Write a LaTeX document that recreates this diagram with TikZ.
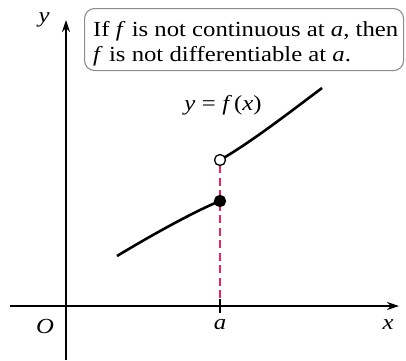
\documentclass[tikz,border=0pt]{standalone}
\usepackage{fontspec}
\setmainfont{Liberation Serif}[FakeStretch=1.15]
\usetikzlibrary{arrows.meta}
\definecolor{dashred}{RGB}{228,40,95}
\definecolor{boxgray}{RGB}{140,140,140}
\begin{document}
\begin{tikzpicture}[x=1pt,y=-1pt,
  axis/.style={line width=1.1pt,-{Stealth[length=12pt,width=8pt]}},
  plain/.style={line width=1.1pt},
  curve/.style={line width=2.6pt},
  guide/.style={line width=1.5pt,dashred,dash pattern=on 8pt off 4.5pt},
  lbl/.style={font=\fontsize{21.5}{24}\selectfont\itshape,inner sep=0pt},
  boxtext/.style={font=\fontsize{21.5}{25}\selectfont,inner sep=0pt,anchor=base west},
  callout/.style={draw=boxgray,line width=1.1pt,rounded corners=10pt,
    minimum width=319pt,minimum height=62pt,inner sep=0pt},
  dotstyle/.style={circle,draw=black,line width=1.3pt,inner sep=0pt,minimum size=11pt}]
\useasboundingbox (0,0) rectangle (406,360);
% axes
\coordinate (yb) at (66,360);
\coordinate (yt) at (66,20);
\coordinate (xl) at (10,306);
\coordinate (xr) at (399,306);
\draw[axis] (yb) -- (yt);
\draw[axis] (xl) -- (xr);
% tick
\coordinate (tk1) at (220,299);
\coordinate (tk2) at (220,313);
\draw[plain] (tk1) -- (tk2);
% dashed guide
\coordinate (gtop) at (220,165);
\draw[guide] (gtop) -- (tk1);
% curves
\coordinate (l0) at (117,256);
\coordinate (l1) at (220,201);
\coordinate (u0) at (220,160);
\coordinate (u1) at (322,88);
\draw[curve] (l0) .. controls (150,236) and (195,211) .. (l1);
\draw[curve] (u0) .. controls (250,143) and (290,112) .. (u1);
\node[dotstyle,fill=white] (open) at (u0) {};
\node[dotstyle,fill=black] (closed) at (l1) {};
% labels
\node[lbl] (ylab) at (44,20) {y};
\node[lbl] (olab) at (45,326) {O};
\node[lbl] (alab) at (220,325) {a};
\node[lbl] (xlab) at (388,325) {x};
\node[font=\fontsize{21.5}{24}\selectfont,inner sep=0pt,anchor=base] (fx) at (223,110) {\textit{y}\hspace{0.3em}=\hspace{0.3em}\textit{f}\kern0.1em(\textit{x})};
% callout
\node[callout,anchor=north west] (box) at (84,8) {};
\node[boxtext] (line1) at (93,36) {If \textit{f} is not continuous at \textit{a}, then};
\node[boxtext] (line2) at (93,61) {\textit{f} is not differentiable at \textit{a}.};
\end{tikzpicture}
\end{document}
